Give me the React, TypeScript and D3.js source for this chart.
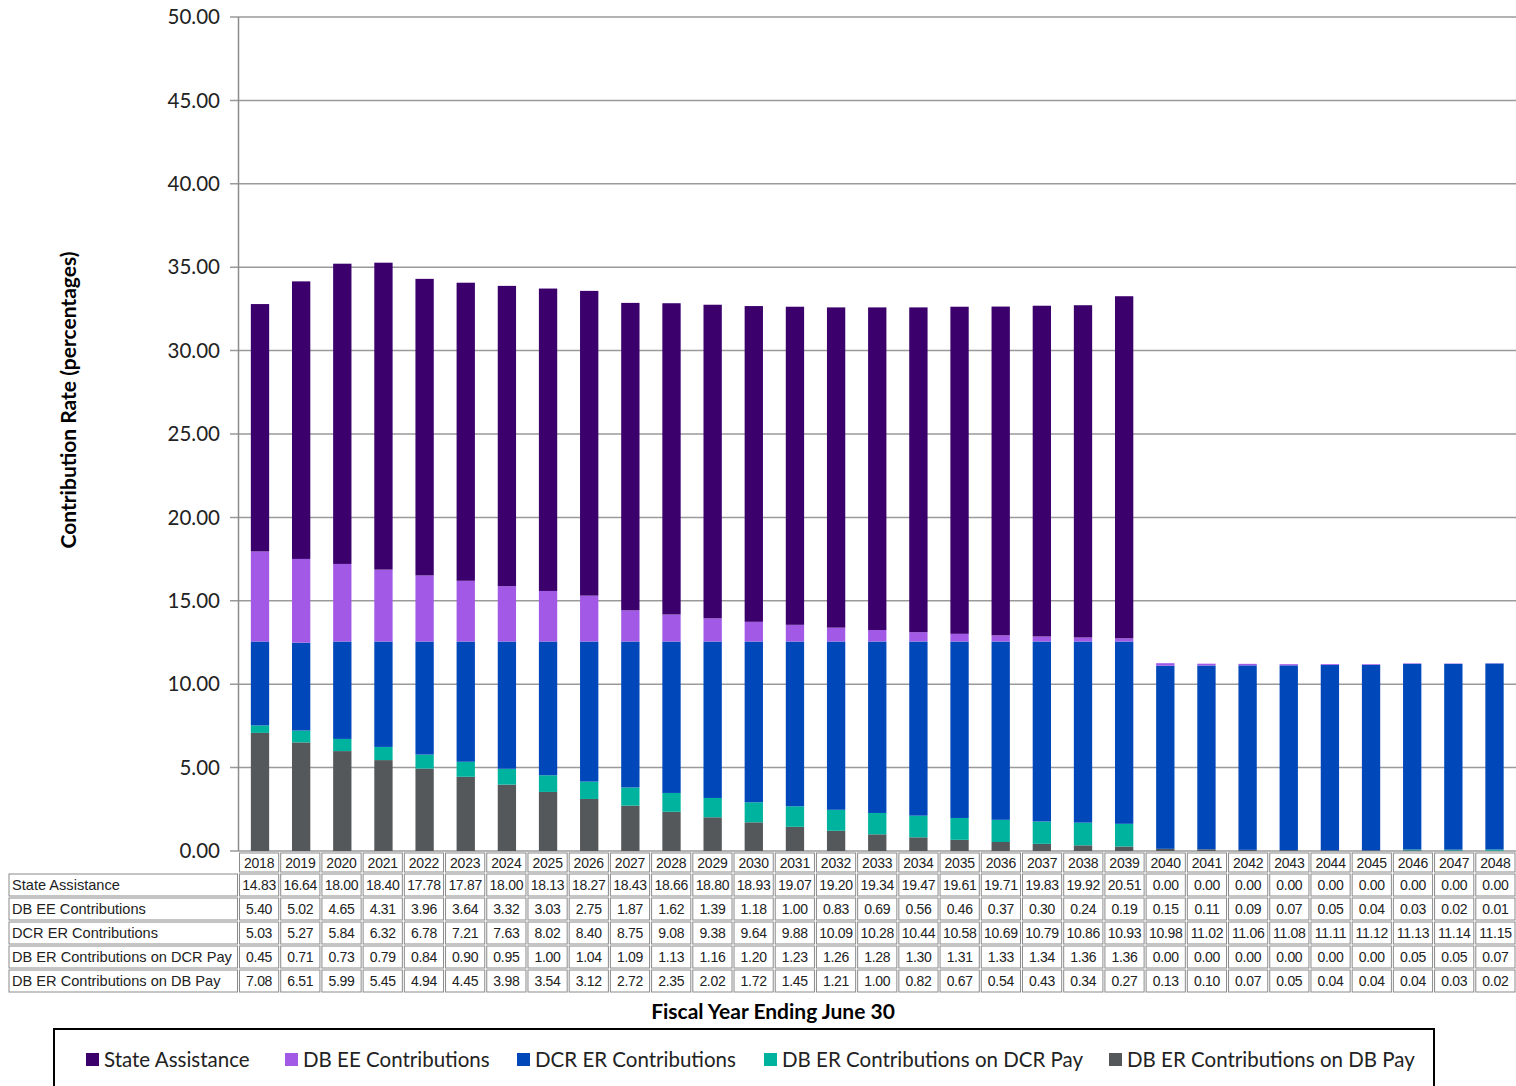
import React from "react";
import * as d3 from "d3";

const years = ["2018","2019","2020","2021","2022","2023","2024","2025","2026","2027","2028","2029","2030","2031","2032","2033","2034","2035","2036","2037","2038","2039","2040","2041","2042","2043","2044","2045","2046","2047","2048"];
const stateAssistance = [14.83,16.64,18.00,18.40,17.78,17.87,18.00,18.13,18.27,18.43,18.66,18.80,18.93,19.07,19.20,19.34,19.47,19.61,19.71,19.83,19.92,20.51,0,0,0,0,0,0,0,0,0];
const dbEE = [5.40,5.02,4.65,4.31,3.96,3.64,3.32,3.03,2.75,1.87,1.62,1.39,1.18,1.00,0.83,0.69,0.56,0.46,0.37,0.30,0.24,0.19,0.15,0.11,0.09,0.07,0.05,0.04,0.03,0.02,0.01];
const dcrER = [5.03,5.27,5.84,6.32,6.78,7.21,7.63,8.02,8.40,8.75,9.08,9.38,9.64,9.88,10.09,10.28,10.44,10.58,10.69,10.79,10.86,10.93,10.98,11.02,11.06,11.08,11.11,11.12,11.13,11.14,11.15];
const dbErDcrPay = [0.45,0.71,0.73,0.79,0.84,0.90,0.95,1.00,1.04,1.09,1.13,1.16,1.20,1.23,1.26,1.28,1.30,1.31,1.33,1.34,1.36,1.36,0,0,0,0,0,0,0.05,0.05,0.07];
const dbErDbPay = [7.08,6.51,5.99,5.45,4.94,4.45,3.98,3.54,3.12,2.72,2.35,2.02,1.72,1.45,1.21,1.00,0.82,0.67,0.54,0.43,0.34,0.27,0.13,0.10,0.07,0.05,0.04,0.04,0.04,0.03,0.02];
const yTicks = [0,5,10,15,20,25,30,35,40,45,50];

const series = [
  { name: "State Assistance", values: stateAssistance, color: "#3b006b" },
  { name: "DB EE Contributions", values: dbEE, color: "#a25ae6" },
  { name: "DCR ER Contributions", values: dcrER, color: "#0047ba" },
  { name: "DB ER Contributions on DCR Pay", values: dbErDcrPay, color: "#00b39f" },
  { name: "DB ER Contributions on DB Pay", values: dbErDbPay, color: "#55585a" },
];
// stacking order bottom -> top
const stackOrder = [4, 3, 2, 1, 0];

export default function App() {
  const W = 1516, H = 1086;
  const left = 238.5, right = 1516, top = 17, bottom = 851;
  const x = d3.scaleBand<string>().domain(years).range([left, right]).paddingInner(0.555).paddingOuter(0.3);
  const xc = d3.scaleBand<string>().domain(years).range([left, right]);
  const y = d3.scaleLinear().domain([0, 50]).range([bottom, top]);

  const rows = years.map((yr, i) => {
    const o: any = { year: yr };
    series.forEach((s) => (o[s.name] = s.values[i]));
    return o;
  });
  const stack = d3.stack<any>().keys(stackOrder.map((k) => series[k].name));
  const stacked = stack(rows);

  const calibri = "Lato, 'Open Sans', sans-serif";
  const arial = "'Liberation Sans', Arial, sans-serif";
  const rowH = 24;
  const headTop = 852;
  const headH = 21;
  const tableRows = series; // in table order
  const cw = xc.bandwidth();

  return (
    <svg width={W} height={H} style={{ position: "absolute", left: 0, top: 0, background: "#fff" }}>
      {/* grid */}
      {yTicks.map((t) => (
        <g key={t}>
          <line x1={230} x2={right} y1={y(t)} y2={y(t)} stroke="#9a9a9a" strokeWidth={1.5} />
          <text x={220} y={y(t)} dy="0.35em" textAnchor="end" fontFamily={calibri} fontSize={20.5} fill="#222">
            {t.toFixed(2)}
          </text>
        </g>
      ))}
      <line x1={left} x2={left} y1={top} y2={bottom} stroke="#8c8c8c" strokeWidth={1.5} />
      {/* bars */}
      {stacked.map((layer, li) => {
        const s = series[stackOrder[li]];
        return (
          <g key={s.name}>
            {layer.map((d, i) => (
              <rect key={i} x={x(years[i])!} width={x.bandwidth()} y={y(d[1])} height={Math.max(0, y(d[0]) - y(d[1]))} fill={s.color} />
            ))}
          </g>
        );
      })}
      {/* y title */}
      <text transform={`translate(76,400) rotate(-90)`} textAnchor="middle" fontFamily={calibri} fontWeight="bold" fontSize={21} fill="#000">
        Contribution Rate (percentages)
      </text>
      {/* table header */}
      {years.map((yr) => (
        <g key={yr}>
          <rect x={xc(yr)! + 1} y={headTop + 1} width={cw - 2} height={headH - 2} fill="none" stroke="#8a8a8a" strokeWidth={1} />
          <text x={xc(yr)! + cw / 2} y={headTop + headH / 2 + 1} dy="0.35em" textAnchor="middle" fontFamily={arial} fontSize={14} letterSpacing={-0.2} fill="#222">
            {yr}
          </text>
        </g>
      ))}
      {tableRows.map((s, r) => {
        const ry = headTop + headH + r * rowH;
        return (
          <g key={s.name}>
            <rect x={9} y={ry + 1} width={left - 10} height={rowH - 2} fill="none" stroke="#8a8a8a" strokeWidth={1} />
            <text x={12} y={ry + rowH / 2} dy="0.35em" fontFamily={arial} fontSize={14.6} fill="#222">
              {s.name}
            </text>
            {years.map((yr, i) => (
              <g key={yr}>
                <rect x={xc(yr)! + 1} y={ry + 1} width={cw - 2} height={rowH - 2} fill="none" stroke="#8a8a8a" strokeWidth={1} />
                <text x={xc(yr)! + cw / 2} y={ry + rowH / 2} dy="0.35em" textAnchor="middle" fontFamily={arial} fontSize={14} letterSpacing={-0.3} fill="#222">
                  {s.values[i].toFixed(2)}
                </text>
              </g>
            ))}
          </g>
        );
      })}
      {/* x title */}
      <text x={773} y={1012} dy="0.35em" textAnchor="middle" fontFamily={calibri} fontWeight="bold" fontSize={21} fill="#000">
        Fiscal Year Ending June 30
      </text>
      {/* legend */}
      <rect x={54} y={1029} width={1380} height={80} fill="#fff" stroke="#000" strokeWidth={2} />
      {(() => {
        const items = [
          { s: series[0], x: 86 },
          { s: series[1], x: 285 },
          { s: series[2], x: 517 },
          { s: series[3], x: 764 },
          { s: series[4], x: 1109 },
        ];
        return items.map(({ s, x: lx }) => (
          <g key={s.name}>
            <rect x={lx} y={1053} width={13} height={13} fill={s.color} />
            <text x={lx + 18} y={1060} dy="0.35em" fontFamily={calibri} fontSize={20.5} fill="#222">
              {s.name}
            </text>
          </g>
        ));
      })()}
    </svg>
  );
}
